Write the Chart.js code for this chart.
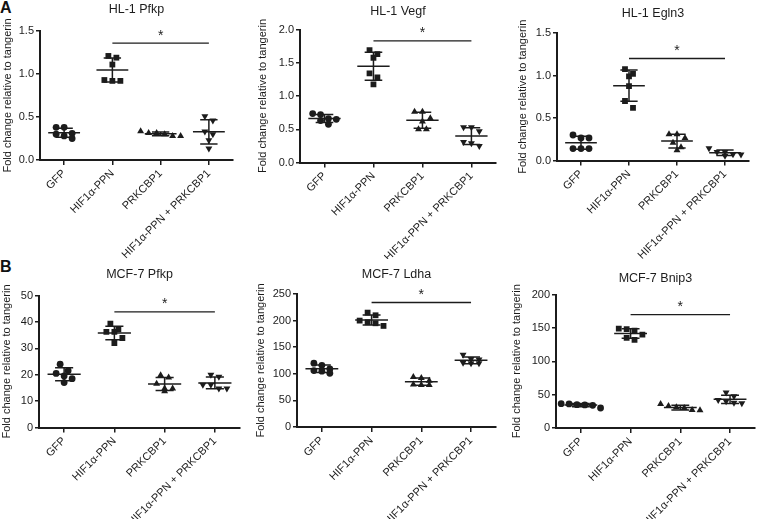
<!DOCTYPE html>
<html>
<head>
<meta charset="utf-8">
<script src="https://cdn.jsdelivr.net/npm/chart.js@4.4.0/dist/chart.umd.min.js"></script>
<style>
  html, body { margin: 0; padding: 0; background: #fff; }
  #fig { position: relative; width: 759px; height: 519px; overflow: hidden; font-family: 'Liberation Sans', Arial, sans-serif; }
  .panel { position: absolute; }
  .tag { position: absolute; font-weight: bold; font-size: 16px; line-height: 1; color: #111; }
</style>
</head>
<body>
<div id="fig">
  <div class="tag" style="left:0;top:0">A</div>
  <div class="tag" style="left:0;top:259px">B</div>
</div>
<script>
const FONT = "'Liberation Sans', Arial, sans-serif";
const INK = '#1c1c1c';
const DOT_GAP = 8;

const categories = ['GFP', 'HIF1\u03b1-PPN', 'PRKCBP1', 'HIF1\u03b1-PPN + PRKCBP1'];
const panelTitles = ['HL-1 Pfkp', 'HL-1 Vegf', 'HL-1 Egln3', 'MCF-7 Pfkp', 'MCF-7 Ldha', 'MCF-7 Bnip3'];
const yAxisMax = [1.5, 2.0, 1.5, 50, 250, 200];
const yAxisStep = [0.5, 0.5, 0.5, 10, 50, 50];
const yTickDecimals = [1, 1, 1, 0, 0, 0];
const sigBarLevel = [1.36, 1.83, 1.2, 43.8, 234, 170];

// one array per group: GFP, HIF1a-PPN, PRKCBP1, HIF1a-PPN + PRKCBP1
const hl1Pfkp = [
  [0.38, 0.38, 0.31, 0.30, 0.28, 0.25],
  [1.21, 1.19, 1.11, 0.93, 0.92, 0.92],
  [0.335, 0.315, 0.315, 0.30, 0.28, 0.28],
  [0.51, 0.46, 0.33, 0.30, 0.23, 0.135]
];
const hl1Vegf = [
  [0.735, 0.72, 0.66, 0.65, 0.63, 0.575],
  [1.69, 1.63, 1.575, 1.34, 1.28, 1.175],
  [0.765, 0.765, 0.665, 0.615, 0.50, 0.50],
  [0.53, 0.53, 0.47, 0.31, 0.29, 0.25]
];
const hl1Egln3 = [
  [0.30, 0.265, 0.265, 0.14, 0.14, 0.14],
  [1.075, 1.02, 0.99, 0.875, 0.70, 0.62],
  [0.31, 0.31, 0.265, 0.21, 0.155, 0.12],
  [0.145, 0.10, 0.10, 0.075, 0.07, 0.055]
];
const mcf7Pfkp = [
  [24.0, 21.5, 20.5, 19.5, 18.5, 17.0],
  [39.3, 37.2, 36.2, 36.2, 33.9, 32.0],
  [19.8, 18.9, 16.6, 14.8, 14.8, 13.7],
  [20.0, 19.2, 16.2, 16.2, 14.8, 14.8]
];
const mcf7Ldha = [
  [120, 116, 109, 106, 105, 101],
  [215, 210, 200, 197, 195, 190],
  [94, 92, 87, 80, 79, 79],
  [136, 128, 127, 121, 120, 120]
];
const mcf7Bnip3 = [
  [36.5, 36, 35, 34.5, 34, 30],
  [149, 148, 146, 140, 135, 132],
  [36, 33, 31, 30, 27, 26.5],
  [53, 47.5, 42, 40, 38, 37]
];
const panelValues = [hl1Pfkp, hl1Vegf, hl1Egln3, mcf7Pfkp, mcf7Ldha, mcf7Bnip3];

// page layout: canvas box, plot area edges, title centre y, y-title centre x
const panelBoxes = [
  { x: 0,   y: 0,   w: 250, h: 259, l: 40,  r: 233, t: 31,    b: 160,   titleY: 10,  yTitleX: 8 },
  { x: 250, y: 0,   w: 250, h: 259, l: 300, r: 499, t: 29.5,  b: 162.5, titleY: 12,  yTitleX: 263 },
  { x: 500, y: 0,   w: 259, h: 259, l: 557, r: 749, t: 33,    b: 160.5, titleY: 14,  yTitleX: 523 },
  { x: 0,   y: 259, w: 250, h: 260, l: 39,  r: 240, t: 295.5, b: 427.5, titleY: 275, yTitleX: 5 },
  { x: 250, y: 259, w: 250, h: 260, l: 297, r: 497, t: 294,   b: 427,   titleY: 275, yTitleX: 261 },
  { x: 500, y: 259, w: 259, h: 260, l: 556, r: 758, t: 294.5, b: 428,   titleY: 279, yTitleX: 517 }
];

const markerStyles = ['circle', 'rect', 'triangle', 'triangle'];
const markerRotation = [0, 0, 0, 180];
const markerRadius = [3.4, 4.1, 4.0, 4.0];

// spread points with close values sideways, like a scatter dot plot
function swarmOffsets(values, pxPerY, gap) {
  const order = values.map((v, i) => i).sort((a, b) => values[b] - values[a]);
  const offsets = new Array(values.length).fill(0);
  let row = [];
  const flush = () => {
    row.forEach((idx, k) => { offsets[idx] = (k - (row.length - 1) / 2) * gap; });
    row = [];
  };
  order.forEach((idx) => {
    if (row.length && (values[row[0]] - values[idx]) * pxPerY >= gap * 0.85) flush();
    row.push(idx);
  });
  flush();
  return offsets;
}

function meanSd(vals) {
  const mean = vals.reduce((a, b) => a + b, 0) / vals.length;
  const sd = Math.sqrt(vals.reduce((a, v) => a + (v - mean) * (v - mean), 0) / (vals.length - 1));
  return { mean, sd };
}

const errorBarPlugin = {
  id: 'meanSd',
  beforeDatasetsDraw(chart) {
    const { ctx, scales: { x, y } } = chart;
    const unit = x.getPixelForValue(1) - x.getPixelForValue(0);
    ctx.save();
    ctx.strokeStyle = INK;
    ctx.lineWidth = 1.5;
    chart.data.datasets.forEach((ds, c) => {
      const { mean, sd } = meanSd(ds.data.map((pt) => pt.y));
      const cx = x.getPixelForValue(c + 0.5);
      const ym = y.getPixelForValue(mean);
      const yHi = y.getPixelForValue(mean + sd);
      const yLo = y.getPixelForValue(Math.max(0, mean - sd));
      ctx.beginPath();
      ctx.moveTo(cx - 0.33 * unit, ym); ctx.lineTo(cx + 0.33 * unit, ym);
      ctx.moveTo(cx, yHi); ctx.lineTo(cx, yLo);
      ctx.moveTo(cx - 0.18 * unit, yHi); ctx.lineTo(cx + 0.18 * unit, yHi);
      ctx.moveTo(cx - 0.18 * unit, yLo); ctx.lineTo(cx + 0.18 * unit, yLo);
      ctx.stroke();
    });
    ctx.restore();
  }
};

const sigBarPlugin = {
  id: 'sigBar',
  afterDraw(chart, args, opts) {
    const { ctx, scales: { x, y } } = chart;
    const x1 = x.getPixelForValue(opts.from);
    const x2 = x.getPixelForValue(opts.to);
    const yy = y.getPixelForValue(opts.level);
    ctx.save();
    ctx.strokeStyle = INK;
    ctx.lineWidth = 1.3;
    ctx.beginPath();
    ctx.moveTo(x1, yy); ctx.lineTo(x2, yy);
    ctx.stroke();
    ctx.fillStyle = INK;
    ctx.font = '14px ' + FONT;
    ctx.textAlign = 'center';
    ctx.textBaseline = 'alphabetic';
    ctx.fillText('*', (x1 + x2) / 2, yy - 3.5);
    ctx.restore();
  }
};

const fig = document.getElementById('fig');

panelBoxes.forEach((box, p) => {
  const canvas = document.createElement('canvas');
  canvas.width = box.w;
  canvas.height = box.h;
  canvas.className = 'panel';
  canvas.style.left = box.x + 'px';
  canvas.style.top = box.y + 'px';
  fig.appendChild(canvas);

  const pxPerX = (box.r - box.l) / categories.length;
  const pxPerY = (box.b - box.t) / yAxisMax[p];
  const datasets = panelValues[p].map((vals, c) => {
    const offs = swarmOffsets(vals, pxPerY, DOT_GAP);
    return {
      label: categories[c],
      data: vals.map((v, k) => ({ x: c + 0.5 + offs[k] / pxPerX, y: v })),
      pointStyle: markerStyles[c],
      rotation: markerRotation[c],
      pointRadius: markerRadius[c],
      backgroundColor: INK,
      borderColor: INK,
      borderWidth: 0
    };
  });

  const padLeft = Math.max(0, box.yTitleX - box.x - 6.6);

  new Chart(canvas, {
    type: 'scatter',
    data: { datasets },
    options: {
      responsive: false,
      animation: false,
      events: [],
      layout: { padding: { left: padLeft, right: box.x + box.w - box.r, top: box.titleY - 7.5 - box.y, bottom: 0 } },
      plugins: {
        legend: { display: false },
        tooltip: { enabled: false },
        title: {
          display: true,
          text: panelTitles[p],
          fullSize: false,
          color: INK,
          font: { family: FONT, size: 12.5, weight: 'normal', lineHeight: 1.2 },
          padding: { top: 0, bottom: box.t - box.titleY - 7.5 }
        },
        sigBar: { level: sigBarLevel[p], from: 1.5, to: 3.5 }
      },
      scales: {
        x: {
          type: 'linear',
          min: 0,
          max: categories.length,
          afterBuildTicks: (s) => { s.ticks = categories.map((_, i) => ({ value: i + 0.5 })); },
          afterFit: (s) => { s.height = box.y + box.h - box.b; },
          ticks: {
            autoSkip: false,
            minRotation: 45,
            maxRotation: 45,
            padding: 2,
            color: INK,
            font: { family: FONT, size: 11 },
            callback: (v, i) => categories[i]
          },
          grid: { drawOnChartArea: false, drawTicks: true, tickLength: 5, color: INK, lineWidth: 1.5 },
          border: { display: true, color: INK, width: 2 }
        },
        y: {
          min: 0,
          max: yAxisMax[p],
          afterFit: (s) => { s.width = box.l - box.x - padLeft; },
          ticks: {
            stepSize: yAxisStep[p],
            padding: 2,
            color: INK,
            font: { family: FONT, size: 11 },
            callback: (v) => v.toFixed(yTickDecimals[p])
          },
          grid: { drawOnChartArea: false, drawTicks: true, tickLength: 4, color: INK, lineWidth: 1.5 },
          border: { display: true, color: INK, width: 2 },
          title: {
            display: true,
            text: 'Fold change relative to tangerin',
            color: INK,
            font: { family: FONT, size: 11 },
            padding: { top: 0, bottom: 0 }
          }
        }
      }
    },
    plugins: [errorBarPlugin, sigBarPlugin]
  });
});
</script>
</body>
</html>
